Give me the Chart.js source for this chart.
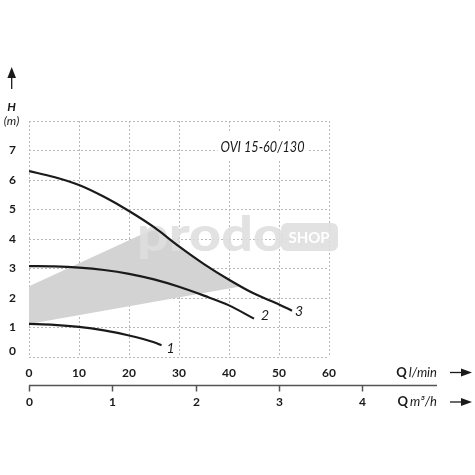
<!DOCTYPE html>
<html><head><meta charset="utf-8">
<script src="https://cdn.jsdelivr.net/npm/chart.js@4.4.0/dist/chart.umd.min.js"></script>
<style>html,body{margin:0;padding:0;background:#fff}</style>
</head><body>
<canvas id="c" width="475" height="475"></canvas>
<script>
// ---- data ----
const flowTicksLmin = [0, 10, 20, 30, 40, 50, 60];
const flowTicksM3h = [0, 1, 2, 3, 4];
const headTicks = [0, 1, 2, 3, 4, 5, 6, 7, 8];
const curve1Q = [0, 5, 10, 15, 20, 25, 26.5];
const curve1H = [1.12, 1.09, 1.02, 0.9, 0.73, 0.5, 0.4];
const curve2Q = [0, 5, 10, 15, 20, 25, 30, 35, 40, 45];
const curve2H = [3.08, 3.07, 3.03, 2.95, 2.82, 2.63, 2.38, 2.08, 1.75, 1.3];
const curve3Q = [0, 5, 10, 15, 20, 25, 30, 35, 40, 45, 50, 52.6];
const curve3H = [6.3, 6.1, 5.83, 5.43, 4.95, 4.4, 3.75, 3.15, 2.62, 2.15, 1.78, 1.57];
const bandQ = [0, 25, 30, 35, 40, 42, 0];
const bandH = [2.4, 4.35, 3.72, 3.12, 2.58, 2.38, 1.12];
const curveLabels = ['1', '2', '3'];
const chartTitle = 'OVI 15-60/130';
const axisLabelLmin = ['Q', 'l/min'];
const axisLabelM3h = ['Q', 'm³/h'];
const headLabel = ['H', '(m)'];
const watermark = ['prodo', 'SHOP'];

const FONT = 'Lato, "Open Sans", sans-serif';
const INK = '#1a1a1a';
const pts = (qs, hs) => qs.map((q, i) => ({x: q, y: hs[i]}));

const extras = {
  id: 'extras',
  beforeDatasetsDraw(chart) {
    const {ctx, scales: {x, y}} = chart;
    ctx.save();
    const cx = x.getPixelForValue(46.7), cy = y.getPixelForValue(7.12);
    ctx.fillStyle = '#fff';
    ctx.fillRect(cx - 45, cy - 14, 90, 27);
    ctx.font = 'italic 15px ' + FONT;
    const w = ctx.measureText(chartTitle).width;
    ctx.translate(cx, cy);
    ctx.scale(84 / w, 1);
    ctx.fillStyle = INK;
    ctx.textAlign = 'center';
    ctx.textBaseline = 'middle';
    ctx.fillText(chartTitle, 0, 0);
    ctx.restore();
  },
  afterDatasetDraw(chart, args) {
    if (args.index !== 0) return;
    const {ctx} = chart;
    ctx.save();
    ctx.fillStyle = 'rgba(222,222,222,0.88)';
    ctx.font = '900 48px ' + FONT;
    const w = ctx.measureText(watermark[0]).width;
    ctx.translate(137, 251);
    ctx.scale(148 / w, 1);
    ctx.textBaseline = 'alphabetic';
    ctx.fillText(watermark[0], 0, 0);
    ctx.restore();
    ctx.save();
    ctx.fillStyle = 'rgba(222,222,222,0.88)';
    ctx.beginPath();
    ctx.roundRect(281, 223, 57, 28, 6);
    ctx.fill();
    ctx.fillStyle = '#fff';
    ctx.font = 'bold 15px ' + FONT;
    ctx.textAlign = 'center';
    ctx.textBaseline = 'middle';
    ctx.fillText(watermark[1], 309, 238);
    ctx.restore();
  },
  afterDraw(chart) {
    const {ctx, scales: {x, y}} = chart;
    ctx.save();
    ctx.fillStyle = INK;
    ctx.strokeStyle = INK;
    ctx.textAlign = 'center';
    ctx.textBaseline = 'middle';
    // y label "0" sits a little above its grid line
    ctx.font = 'bold 12px ' + FONT;
    ctx.textAlign = 'right';
    ctx.fillText(String(headTicks[0]), 16, y.getPixelForValue(headTicks[0]) - 6);
    ctx.textAlign = 'center';
    // curve labels
    ctx.font = 'italic 14px ' + FONT;
    const ends = [[curve1Q, curve1H, 9, 3], [curve2Q, curve2H, 11, -3], [curve3Q, curve3H, 7, 1]];
    ends.forEach(([qs, hs, dx, dy], i) => {
      const px = x.getPixelForValue(qs[qs.length - 1]) + dx;
      const py = y.getPixelForValue(hs[hs.length - 1]) + dy;
      ctx.fillText(curveLabels[i], px, py);
    });
    // H (m) label and up arrow
    ctx.font = 'italic bold 12px ' + FONT;
    ctx.fillText(headLabel[0], 11.5, 107.5);
    ctx.font = 'italic 12px ' + FONT;
    ctx.fillText(headLabel[1], 11.5, 121);
    ctx.lineWidth = 1.3;
    ctx.beginPath(); ctx.moveTo(11.7, 89); ctx.lineTo(11.7, 76); ctx.stroke();
    ctx.beginPath(); ctx.moveTo(11.7, 67); ctx.lineTo(16, 78); ctx.lineTo(7.4, 78); ctx.closePath(); ctx.fill();
    // secondary m3/h axis
    const lineY = 385.5, x0 = x.getPixelForValue(0), xEnd = 437;
    ctx.strokeStyle = '#555';
    ctx.lineWidth = 1.5;
    ctx.beginPath(); ctx.moveTo(x0, lineY); ctx.lineTo(xEnd, lineY); ctx.stroke();
    ctx.font = 'bold 12px ' + FONT;
    ctx.fillStyle = INK;
    flowTicksM3h.forEach(v => {
      const px = Math.round(x.getPixelForValue(v * 1000 / 60)) + 0.5;
      ctx.beginPath(); ctx.moveTo(px, lineY); ctx.lineTo(px, lineY + 6); ctx.stroke();
      ctx.fillText(String(v), px, 402);
    });
    // axis names
    const drawQ = (label, yy) => {
      ctx.textAlign = 'right';
      ctx.font = 'italic 13px ' + FONT;
      ctx.fillText(label[1], 437, yy);
      const w = ctx.measureText(label[1]).width;
      ctx.font = 'bold 13px ' + FONT;
      ctx.fillText(label[0], 437 - w - 2, yy);
      ctx.strokeStyle = INK;
      ctx.lineWidth = 1.3;
      ctx.beginPath(); ctx.moveTo(450, yy); ctx.lineTo(463, yy); ctx.stroke();
      ctx.beginPath(); ctx.moveTo(472, yy); ctx.lineTo(461, yy - 4); ctx.lineTo(461, yy + 4); ctx.closePath(); ctx.fill();
    };
    drawQ(axisLabelLmin, 372.5);
    drawQ(axisLabelM3h, 402);
    ctx.restore();
  }
};

const gridOpts = {color: '#b8b8b8', lineWidth: 1, drawTicks: false};
const borderOpts = {display: false, dash: [2, 2]};
const curveStyle = {borderColor: INK, borderWidth: 2.2, pointRadius: 0, fill: false, cubicInterpolationMode: 'monotone', order: 0};

new Chart(document.getElementById('c'), {
  type: 'line',
  data: {
    datasets: [
      {data: pts(bandQ, bandH), backgroundColor: '#d3d3d3', borderWidth: 0, pointRadius: 0, tension: 0, fill: 'shape', order: 5},
      {data: pts(curve1Q, curve1H), ...curveStyle},
      {data: pts(curve2Q, curve2H), ...curveStyle},
      {data: pts(curve3Q, curve3H), ...curveStyle}
    ]
  },
  options: {
    responsive: false, animation: false, devicePixelRatio: 1,
    layout: {padding: {top: 121, right: 146, left: 0, bottom: 0}},
    plugins: {legend: {display: false}, tooltip: {enabled: false}},
    scales: {
      x: {
        type: 'linear', min: 0, max: 60,
        afterBuildTicks: s => { s.ticks = flowTicksLmin.map(v => ({value: v})); },
        grid: gridOpts, border: borderOpts,
        ticks: {padding: 9, color: INK, maxRotation: 0, font: {family: FONT, size: 12, weight: 'bold'}},
        afterFit: s => { s.height = 118; }
      },
      y: {
        type: 'linear', min: 0, max: 8,
        afterBuildTicks: s => { s.ticks = headTicks.map(v => ({value: v})); },
        grid: gridOpts, border: borderOpts,
        ticks: {padding: 13, color: INK, font: {family: FONT, size: 12, weight: 'bold'}, callback: v => (v === 8 || v === 0) ? '' : v},
        afterFit: s => { s.width = 29; }
      }
    }
  },
  plugins: [extras]
});
</script>
</body></html>
